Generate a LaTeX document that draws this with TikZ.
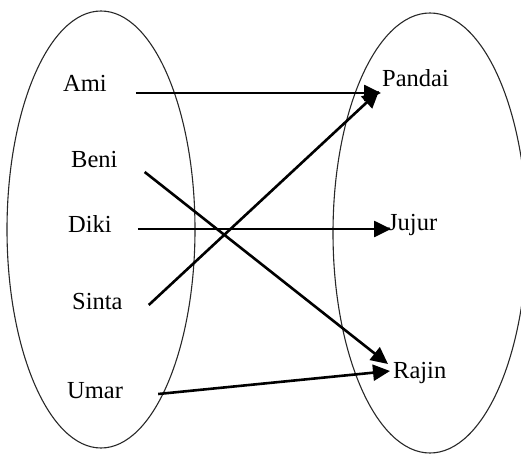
\documentclass[tikz,border=0pt]{standalone}
\usepackage{fontspec}
\setmainfont{Liberation Serif}
\usetikzlibrary{arrows.meta}

\begin{document}
\begin{tikzpicture}[x=1pt, y=-1pt,
  lbl/.style={anchor=base west, inner sep=0pt, font=\fontsize{24.5}{28}\selectfont},
  map/.style={line width=2.6pt, -{Triangle[length=17pt, width=16pt]}}]
% Define the custom color
  \definecolor{mydarkgrey}{RGB}{40,40,40}

  \useasboundingbox (0,0) rectangle (521,454);

  \draw[draw=mydarkgrey, line width=1.1pt] (101,229.5) ellipse [x radius=94, y radius=218.5];
  \draw[draw=mydarkgrey, line width=1.1pt] (430,233) ellipse [x radius=97, y radius=220];

  \node[lbl] (ami) at (63,92) {Ami};
  \node[lbl] (beni) at (71,168) {Beni};
  \node[lbl] (diki) at (68,232) {Diki};
  \node[lbl] (sinta) at (72,309) {Sinta};
  \node[lbl] (umar) at (67,398) {Umar};

  \node[lbl] (pandai) at (382,87) {Pandai};
  \node[lbl] (jujur) at (388,230) {Jujur};
  \node[lbl] (rajin) at (393,378) {Rajin};

  \draw[map] ([shift={(29,1)}]ami.base east) -- ([shift={(-1,6)}]pandai.base west);
  \draw[map] ([shift={(27,4)}]beni.base east) -- ([shift={(-5,-14)}]rajin.base west);
  \draw[map] ([shift={(26,-3)}]diki.base east) -- ([shift={(3,-1)}]jujur.base west);
  \draw[map] ([shift={(26,-4)}]sinta.base east) -- ([shift={(-3,4)}]pandai.base west);
  \draw[map] ([shift={(35,-4)}]umar.base east) -- ([shift={(-3,-7)}]rajin.base west);

\end{tikzpicture}
\end{document}
